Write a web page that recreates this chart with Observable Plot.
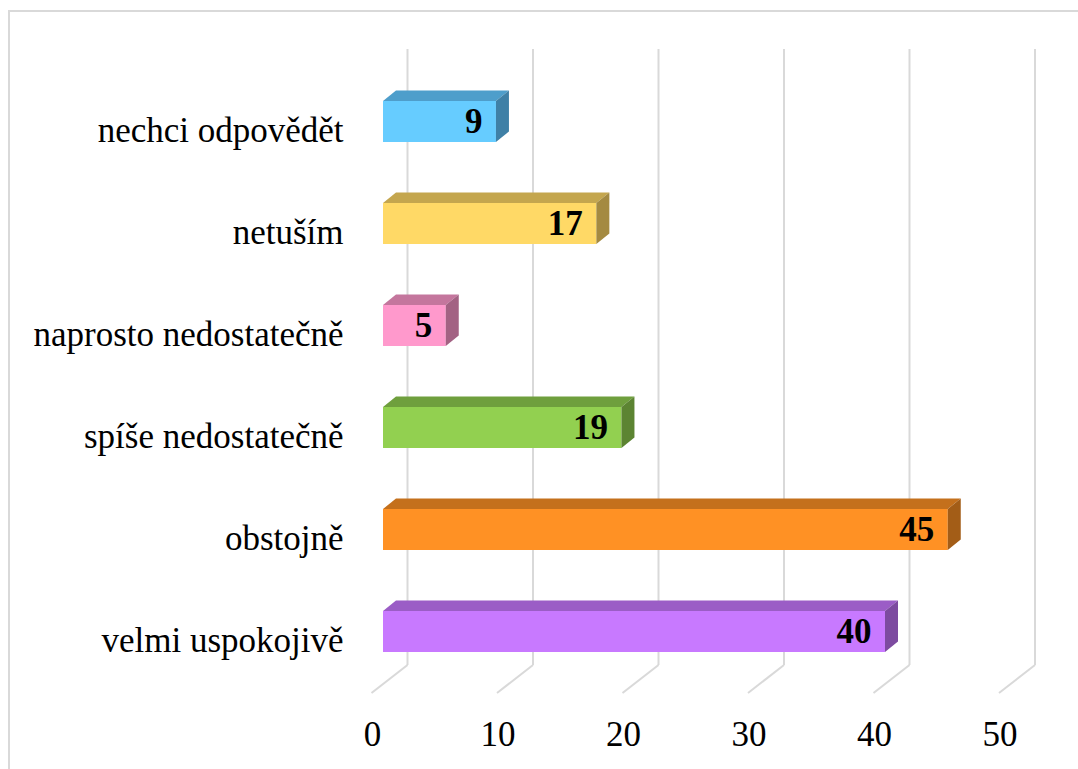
<!DOCTYPE html>
<html>
<head>
<meta charset="utf-8">
<script src="https://cdn.jsdelivr.net/npm/d3@7"></script>
<script src="https://cdn.jsdelivr.net/npm/@observablehq/plot@0.6"></script>
<style>
  html, body { margin: 0; padding: 0; background: #fff; }
  #wrap { position: relative; width: 1078px; height: 769px; overflow: hidden; }
  #border { position: absolute; left: 8px; top: 10px; width: 1200px; height: 900px;
            border-left: 2px solid #d9d9d9; border-top: 2px solid #d9d9d9; pointer-events: none; }
  #chart { position: absolute; left: 0; top: 0; }
</style>
</head>
<body>
<div id="wrap"><div id="border"></div><div id="chart"></div></div>
<script>
const categories = ["nechci odpovědět", "netuším", "naprosto nedostatečně", "spíše nedostatečně", "obstojně", "velmi uspokojivě"];
const values = [9, 17, 5, 19, 45, 40];
const frontColors = ["#66ccff", "#ffd966", "#ff99cc", "#92d050", "#ff9124", "#c879ff"];
const topColors   = ["#4e9ecb", "#c4a64e", "#c4769d", "#6f9f3d", "#c4701c", "#9b5dc6"];
const sideColors  = ["#3f80a6", "#a48a41", "#a36283", "#5c8432", "#a35d17", "#7d4ba0"];
const xTicks = [0, 10, 20, 30, 40, 50];

const data = categories.map((c, i) => ({cat: c, value: values[i], i}));
const DX = 13, DY = 10.5;      // bar depth offset
const BACK = 24, FRONT = -11;  // wall/floor offsets relative to bar scale

const chart = Plot.plot({
  width: 1078,
  height: 769,
  marginLeft: 383,
  marginRight: 67.5,
  marginTop: 38.5,
  marginBottom: 54.6,
  style: {fontFamily: "'Liberation Serif', serif", fontSize: "35px", background: "transparent"},
  x: {domain: [0, 50]},
  y: {domain: categories, padding: 0.6},
  color: {type: "ordinal", domain: categories, range: frontColors},
  marks: [
    Plot.ruleX(xTicks, {
      x: d => d, dx: BACK, insetTop: 10.5, insetBottom: 49.4,
      stroke: "#d9d9d9", strokeWidth: 2,
      render(index, scales, vals, dims, ctx, next) {
        const g = next(index, scales, vals, dims, ctx);
        const yb = dims.height - dims.marginBottom - 49.4;
        for (const i of index) {
          const x = vals.x[i];
          d3.select(g).append("path")
            .attr("d", `M${x},${yb} L${x + FRONT - BACK - 1},${yb + 28}`)
            .attr("stroke", "#d9d9d9").attr("stroke-width", 2).attr("fill", "none");
        }
        return g;
      }
    }),
    Plot.barX(data, {
      x: "value", y: "cat", fill: "cat",
      render(index, scales, vals, dims, ctx, next) {
        const g = next(index, scales, vals, dims, ctx);
        const rects = Array.from(g.querySelectorAll("rect"));
        rects.forEach((r, k) => {
          const i = index[k];
          const x1 = +r.getAttribute("x"), y1 = +r.getAttribute("y");
          const w = +r.getAttribute("width"), h = +r.getAttribute("height");
          const x2 = x1 + w, y2 = y1 + h;
          d3.select(g).append("polygon")
            .attr("points", `${x1},${y1} ${x2},${y1} ${x2 + DX},${y1 - DY} ${x1 + DX},${y1 - DY}`)
            .attr("fill", topColors[data[i].i]);
          d3.select(g).append("polygon")
            .attr("points", `${x2},${y1} ${x2 + DX},${y1 - DY} ${x2 + DX},${y2 - DY} ${x2},${y2}`)
            .attr("fill", sideColors[data[i].i]);
        });
        return g;
      }
    }),
    Plot.text(data, {
      x: "value", y: "cat", text: d => String(d.value),
      textAnchor: "end", dx: -14, fontWeight: "bold", fontSize: 35, fill: "#000"
    }),
    Plot.axisY({tickSize: 0, tickPadding: 40, fontSize: 35, dy: 9, label: null}),
    Plot.axisX({ticks: xTicks, tickSize: 0, tickPadding: 3, fontSize: 35, dx: FRONT, dy: 3, label: null})
  ]
});
document.getElementById("chart").appendChild(chart);
</script>
</body>
</html>
